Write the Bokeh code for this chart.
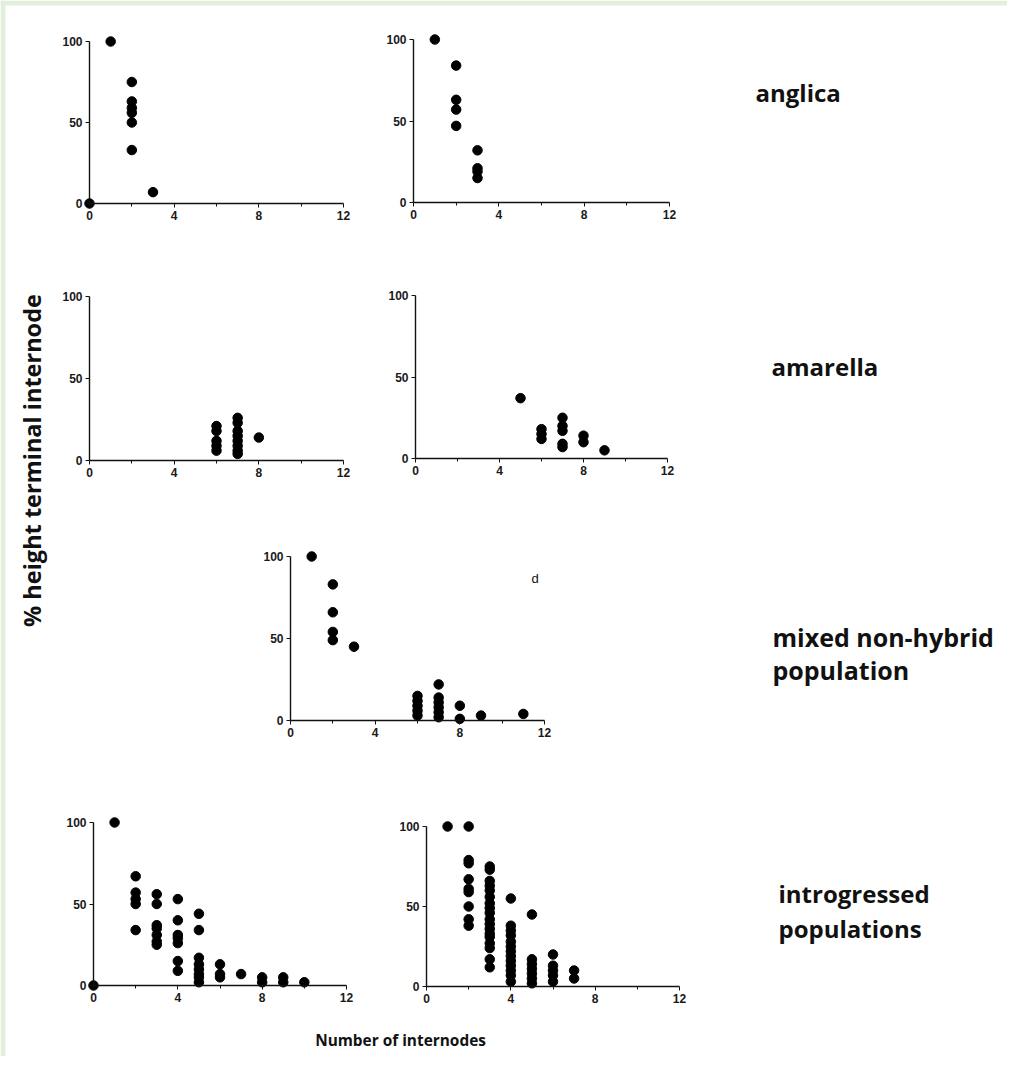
import math
from bokeh.plotting import figure
from bokeh.models import Range1d, LinearAxis, FixedTicker, Label, BoxAnnotation
from bokeh.embed import file_html
from bokeh.resources import INLINE

# ---------------- data ----------------
X_TICKS = [0, 4, 8, 12]
X_MINOR = [2, 6, 10]
Y_TICKS = [0, 50, 100]

anglica1_x = [0, 1, 2, 2, 2, 2, 2, 2, 3]
anglica1_y = [0, 100, 75, 63, 59, 56, 50, 33, 7]

anglica2_x = [1, 2, 2, 2, 2, 3, 3, 3, 3]
anglica2_y = [100, 84, 63, 57, 47, 32, 21, 19, 15]

amarella1_x = [6, 6, 6, 6, 6, 7, 7, 7, 7, 7, 7, 7, 7, 8]
amarella1_y = [21, 18, 12, 9, 6, 26, 23, 18, 15, 12, 9, 6, 4, 14]

amarella2_x = [5, 6, 6, 6, 7, 7, 7, 7, 7, 8, 8, 9]
amarella2_y = [37, 18, 15, 12, 25, 20, 17, 9, 7, 14, 10, 5]

mixed_x = [1, 2, 2, 2, 2, 3, 6, 6, 6, 6, 6, 7, 7, 7, 7, 7, 7, 8, 8, 9, 11]
mixed_y = [100, 83, 66, 54, 49, 45, 15, 12, 9, 6, 3, 22, 14, 11, 8, 5, 2, 9, 1, 3, 4]

intro1_x = [0, 1,
            2, 2, 2, 2, 2,
            3, 3, 3, 3, 3, 3, 3,
            4, 4, 4, 4, 4, 4, 4,
            5, 5, 5, 5, 5, 5, 5, 5,
            6, 6, 6,
            7,
            8, 8,
            9, 9,
            10]
intro1_y = [0, 100,
            67, 57, 53, 50, 34,
            56, 50, 37, 35, 31, 27, 25,
            53, 40, 31, 29, 26, 15, 9,
            44, 34, 17, 13, 10, 7, 5, 2,
            13, 7, 5,
            7,
            5, 2,
            5, 2,
            2]

intro2_x = [1,
            2, 2, 2, 2, 2, 2, 2, 2, 2,
            3, 3, 3, 3, 3, 3, 3, 3, 3, 3, 3, 3, 3, 3, 3, 3, 3, 3,
            4, 4, 4, 4, 4, 4, 4, 4, 4, 4, 4, 4, 4,
            5, 5, 5, 5, 5, 5, 5,
            6, 6, 6, 6, 6,
            7, 7]
intro2_y = [100,
            100, 79, 77, 67, 61, 59, 50, 42, 38,
            75, 73, 66, 63, 60, 56, 52, 49, 46, 42, 39, 36, 33, 31, 27, 24, 17, 12,
            55, 38, 35, 32, 28, 25, 22, 19, 16, 13, 10, 7, 3,
            45, 17, 14, 11, 8, 5, 2,
            20, 13, 10, 7, 3,
            10, 5]

# ---------------- layout ----------------
W, H = 1007, 1056
OFF = 0  # figure drawn at page origin in the screenshot

p = figure(width=W, height=H, output_backend="svg", toolbar_location=None,
           x_axis_type=None, y_axis_type=None,
           x_range=Range1d(0, W), y_range=Range1d(H, 0),
           min_border=0, background_fill_color="white", border_fill_color="white")
p.outline_line_color = None
p.grid.visible = False

# green frame strips (top and left)
green = "#e2efda"
p.add_layout(BoxAnnotation(left=0, right=5, fill_color=green, fill_alpha=1, line_alpha=0))
p.add_layout(BoxAnnotation(bottom=0, top=5, fill_color=green, fill_alpha=1, line_alpha=0))

# panel frames in page pixels: x at 0, x at 12, y at 0, y at 100
panels = [
    ("a1", (89, 343, 203, 41), anglica1_x, anglica1_y),
    ("a2", (413, 669, 202, 39), anglica2_x, anglica2_y),
    ("m1", (89, 343, 460, 296), amarella1_x, amarella1_y),
    ("m2", (415, 667, 458, 295), amarella2_x, amarella2_y),
    ("mx", (290, 544, 720, 556), mixed_x, mixed_y),
    ("i1", (93, 346, 985, 822), intro1_x, intro1_y),
    ("i2", (426, 679, 986, 826), intro2_x, intro2_y),
]

for name, (x0, x12, y0, y100), xs, ys in panels:
    a = x0 - OFF
    b = x12 - OFF
    kx = (b - a) / 12.0
    xs_ = -a / kx
    xe_ = xs_ + W / kx
    c = H - (y0 - OFF)
    d = H - (y100 - OFF)
    ky = (d - c) / 100.0
    ys_ = -c / ky
    ye_ = ys_ + H / ky
    xn, yn = "x_" + name, "y_" + name
    p.extra_x_ranges[xn] = Range1d(xs_, xe_)
    p.extra_y_ranges[yn] = Range1d(ys_, ye_)

    xa = LinearAxis(x_range_name=xn, y_range_name=yn, fixed_location=0, bounds=(0, 12),
                    ticker=FixedTicker(ticks=X_TICKS, minor_ticks=X_MINOR))
    ya = LinearAxis(x_range_name=xn, y_range_name=yn, fixed_location=0, bounds=(0, 100),
                    ticker=FixedTicker(ticks=Y_TICKS, minor_ticks=[]))
    for ax in (xa, ya):
        ax.axis_line_color = "#111111"
        ax.axis_line_width = 1.4
        ax.major_tick_line_color = "#111111"
        ax.minor_tick_line_color = "#111111"
        ax.major_tick_out = 4
        ax.major_tick_in = 0
        ax.minor_tick_out = 3
        ax.minor_tick_in = 0
        ax.major_label_text_font = "Liberation Sans"
        ax.major_label_text_font_size = "12px"
        ax.major_label_text_font_style = "bold"
        ax.major_label_text_color = "#1a1a1a"
        ax.major_label_standoff = 3
    p.add_layout(xa, "below")
    p.add_layout(ya, "left")

    p.scatter(xs, ys, size=9.5, fill_color="black", line_color="black",
              x_range_name=xn, y_range_name=yn)

# ---------------- texts ----------------
def lab(text, x, y, size="24px", bold=True, align="left", angle=0.0, font="Open Sans"):
    p.add_layout(Label(x=x - OFF, y=y - OFF, text=text, text_font=font,
                       text_font_size=size, text_font_style="bold" if bold else "normal",
                       text_align=align, text_baseline="middle", angle=angle,
                       text_color="#111111"))

lab("anglica", 755, 92)
lab("amarella", 771, 366)
lab("mixed non-hybrid", 772, 636, size="25px")
lab("population", 772, 669, size="25px")
lab("introgressed", 778, 893)
lab("populations", 778, 928)
lab("% height terminal internode", 31, 460, size="23.5px", align="center", angle=math.pi / 2)
lab("Number of internodes", 400, 1040, size="15.4px", align="center")
lab("d", 531, 578, size="13px", bold=False, font="Liberation Sans")

open("out.html", "w").write(file_html(p, INLINE))
